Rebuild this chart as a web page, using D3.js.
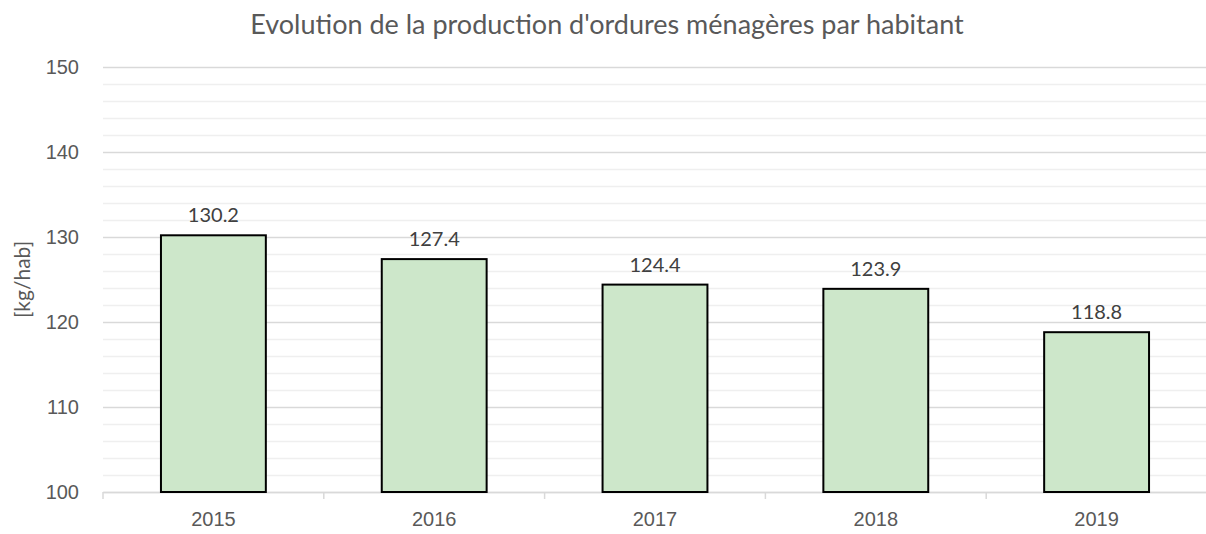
<!DOCTYPE html>
<html>
<head>
<meta charset="utf-8">
<script src="https://cdn.jsdelivr.net/npm/d3@7"></script>
<style>
  body { margin: 0; background: #fff; }
  svg { font-family: Lato, "Open Sans", sans-serif; }
</style>
</head>
<body>
<div id="chart"></div>
<script>
const WIDTH = 1206, HEIGHT = 534;
const MARGIN = {top: 67, right: 0, bottom: 42, left: 103};

const years = ["2015", "2016", "2017", "2018", "2019"];
const values = [130.2, 127.4, 124.4, 123.9, 118.8];
const yTicks = [100, 110, 120, 130, 140, 150];
const title = "Evolution de la production d'ordures ménagères par habitant";
const yTitle = "[kg/hab]";

var svg = d3.select("#chart").append("svg")
    .attr("width", WIDTH)
    .attr("height", HEIGHT);

var xScale = d3.scaleBand()
    .domain(years)
    .range([MARGIN.left, 1207])
    .paddingInner(0.525)
    .paddingOuter(0.2625);

var yScale = d3.scaleLinear()
    .domain([100, 150])
    .range([HEIGHT - MARGIN.bottom, MARGIN.top]);

// minor gridlines every 2
var minor = d3.range(102, 150, 2).filter(function (d) { return d % 10 !== 0; });
svg.append("g").selectAll("line")
    .data(minor)
    .enter()
    .append("line")
    .attr("x1", MARGIN.left)
    .attr("x2", 1207)
    .attr("y1", function (d) { return Math.round(yScale(d)) + 0.5; })
    .attr("y2", function (d) { return Math.round(yScale(d)) + 0.5; })
    .attr("stroke", "#efefef")
    .attr("stroke-width", 1.5);

// major gridlines
var yAxis = d3.axisLeft(yScale)
    .tickValues(yTicks)
    .tickSize(-(1207 - MARGIN.left))
    .tickPadding(24);

var gy = svg.append("g")
    .attr("transform", "translate(" + MARGIN.left + ",0)")
    .call(yAxis);
gy.select(".domain").remove();
gy.selectAll(".tick line").attr("stroke", "#d9d9d9").attr("stroke-width", 1.5);
gy.selectAll(".tick text")
    .attr("fill", "#595959")
    .style("font-size", "20px");

// x axis
var catWidth = (1207 - MARGIN.left) / years.length;
var xAxis = d3.axisBottom(xScale).tickSize(0).tickPadding(20);
var gx = svg.append("g")
    .attr("transform", "translate(0," + yScale(100) + ")")
    .call(xAxis);
gx.select(".domain").attr("stroke", "#d9d9d9").attr("stroke-width", 1.5);
gx.selectAll(".tick text")
    .attr("fill", "#595959")
    .style("font-size", "20px");
gx.selectAll(".sep")
    .data(d3.range(years.length + 1))
    .enter()
    .append("line")
    .attr("x1", function (i) { return MARGIN.left + i * catWidth; })
    .attr("x2", function (i) { return MARGIN.left + i * catWidth; })
    .attr("y1", 0)
    .attr("y2", 7)
    .attr("stroke", "#d9d9d9")
    .attr("stroke-width", 1.5);

// bars
svg.append("g").selectAll("rect")
    .data(values)
    .enter()
    .append("rect")
    .attr("x", function (d, i) { return xScale(years[i]); })
    .attr("y", function (d) { return yScale(d); })
    .attr("width", xScale.bandwidth())
    .attr("height", function (d) { return yScale(100) - yScale(d); })
    .attr("fill", "#cde7ca")
    .attr("stroke", "#000")
    .attr("stroke-width", 2);

// data labels
svg.append("g").selectAll("text")
    .data(values)
    .enter()
    .append("text")
    .attr("x", function (d, i) { return xScale(years[i]) + xScale.bandwidth() / 2; })
    .attr("y", function (d) { return yScale(d) - 13; })
    .attr("text-anchor", "middle")
    .attr("fill", "#404040")
    .style("font-size", "20px")
    .text(function (d) { return d.toFixed(1); });

// title
svg.append("text")
    .attr("x", 607)
    .attr("y", 34)
    .attr("text-anchor", "middle")
    .attr("fill", "#595959")
    .style("font-size", "27px")
    .text(title);

// y axis title
svg.append("text")
    .attr("transform", "translate(30," + (yScale(125)) + ") rotate(-90)")
    .attr("text-anchor", "middle")
    .attr("fill", "#595959")
    .style("font-size", "21px")
    .text(yTitle);
</script>
</body>
</html>
